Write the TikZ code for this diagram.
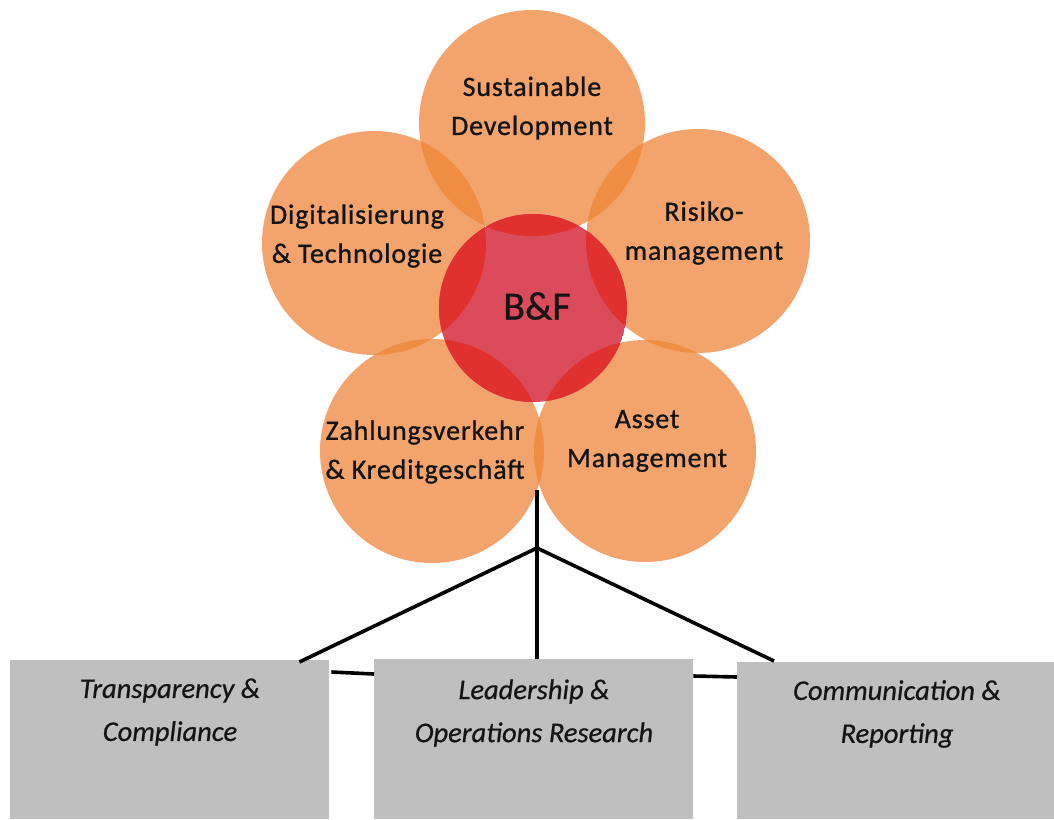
\documentclass[tikz,border=0pt]{standalone}
\usepackage{fontspec}
\setmainfont{Carlito}
\newfontfamily\circfont[LetterSpace=3,FakeBold=0.9]{Carlito}
\newfontfamily\centfont[FakeBold=0.7]{Carlito}
\newfontfamily\boxfont[FakeBold=0.6,ItalicFeatures={FakeBold=0.6}]{Carlito}
\usetikzlibrary{calc}
\definecolor{orangeA}{HTML}{F3A46C}
\definecolor{orangeB}{HTML}{EF8D42}
\definecolor{redA}{HTML}{E0312F}
\definecolor{pinkA}{HTML}{DC4B5B}
\definecolor{grayA}{HTML}{BFBFBF}
\definecolor{txt}{HTML}{141414}
\begin{document}
\begin{tikzpicture}[x=1pt,y=-1pt,
  petaltext/.style={font=\circfont\fontsize{28}{39}\selectfont, align=center, text=txt, inner sep=0pt},
  centertext/.style={font=\centfont\fontsize{40}{44}\selectfont, text=txt, inner sep=0pt},
  boxtext/.style={font=\boxfont\itshape\fontsize{28.5}{43}\selectfont, align=center, text=txt, inner sep=0pt},
  box/.style={fill=grayA, draw=none, inner sep=0pt, anchor=north west},
  link/.style={line width=3.6pt, black}]
\useasboundingbox (0,0) rectangle (1054,819);
\fill[white] (0,0) rectangle (1054,819);
% circle centres
\coordinate (cT) at (532,123);
\coordinate (cL) at (374,243);
\coordinate (cR) at (698,241);
\coordinate (cBL) at (432,451);
\coordinate (cBR) at (645,451);
\coordinate (cC) at (533,308);
\def\rT{113pt}\def\rL{112pt}\def\rR{112pt}\def\rBL{112pt}\def\rBR{111pt}\def\rC{94pt}
% orange circles
\fill[orangeA] (cT) circle (\rT);
\fill[orangeA] (cL) circle (\rL);
\fill[orangeA] (cR) circle (\rR);
\fill[orangeA] (cBL) circle (\rBL);
\fill[orangeA] (cBR) circle (\rBR);
% overlaps between orange circles
\begin{scope}
  \clip (cT) circle (\rT);
  \fill[orangeB] (cL) circle (\rL);
  \fill[orangeB] (cR) circle (\rR);
\end{scope}
\begin{scope}
  \clip (cBL) circle (\rBL);
  \fill[orangeB] (cL) circle (\rL);
  \fill[orangeB] (cBR) circle (\rBR);
\end{scope}
\begin{scope}
  \clip (cBR) circle (\rBR);
  \fill[orangeB] (cR) circle (\rR);
\end{scope}
% centre circle
\begin{scope}
  \clip (cC) circle (\rC);
  \fill[pinkA] (cC) circle (\rC);
  \fill[redA] (cT) circle (\rT);
  \fill[redA] (cL) circle (\rL);
  \fill[redA] (cR) circle (\rR);
  \fill[redA] (cBL) circle (\rBL);
  \fill[redA] (cBR) circle (\rBR);
\end{scope}
% texts
\node[petaltext] (tT) at (532,108) {Sustainable\\Development};
\node[petaltext] (tL) at (357,236) {Digitalisierung\\\& Technologie};
\node[petaltext] (tR) at (704,233) {Risiko-\\management};
\node[centertext] (tC) at (537,306) {B\&F};
\node[petaltext] (tBL) at (425,452) {Zahlungsverkehr\\\& Kreditgeschäft};
\node[petaltext] (tBR) at (647,441) {Asset\\Management};
% boxes
\node[box, minimum width=319pt, minimum height=159pt] (boxL) at (10,660) {};
\node[box, minimum width=319pt, minimum height=160pt] (boxM) at (374,659) {};
\node[box, minimum width=317pt, minimum height=157pt] (boxR) at (737,662) {};
\node[boxtext] (tbL) at (170,712) {Transparency \&\\Compliance};
\node[boxtext] (tbM) at (534,713) {Leadership \&\\Operations Research};
\node[boxtext] (tbR) at (897,714) {Communication \&\\Reporting};
% connectors
\coordinate (stem) at (537,490);
\coordinate (j) at (537,548);
\draw[link] (stem) -- (stem |- boxM.north);
\draw[link] (j) -- ($(boxL.north east)+(-30,2)$);
\draw[link] (j) -- ($(boxR.north west)+(37,-1)$);
\draw[link] ($(boxL.north east)+(2,12)$) -- ($(boxM.north west)+(0,15)$);
\draw[link] ($(boxM.north east)+(0,17)$) -- ($(boxR.north west)+(0,15)$);
\end{tikzpicture}
\end{document}
